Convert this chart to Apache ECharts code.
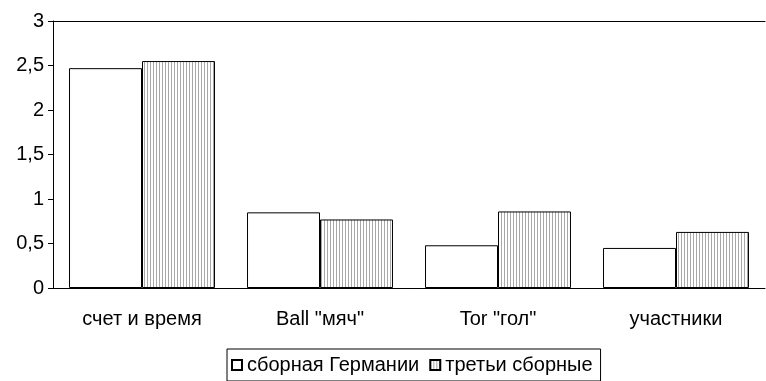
<!DOCTYPE html>
<html>
<head>
<meta charset="utf-8">
<script src="https://cdn.jsdelivr.net/npm/echarts@6/dist/echarts.min.js"></script>
<style>
  html, body { margin: 0; padding: 0; background: #fff; }
  #chart { width: 766px; height: 381px; }
</style>
</head>
<body>
<div id="chart"></div>
<script>
// Categories and values
const categories = ['счет и время', 'Ball "мяч"', 'Tor "гол"', 'участники'];
const germanyTeam = [2.47, 0.85, 0.48, 0.45];
const thirdTeams = [2.55, 0.77, 0.86, 0.63];
const seriesNames = ['сборная Германии', 'третьи сборные'];
const yTicks = [0, 0.5, 1, 1.5, 2, 2.5, 3];

// Vertical hatch fill: 1px grey line every 3px
function makeStripePattern() {
  const c = document.createElement('canvas');
  c.width = 3;
  c.height = 4;
  const ctx = c.getContext('2d');
  ctx.fillStyle = '#ffffff';
  ctx.fillRect(0, 0, 3, 4);
  ctx.fillStyle = '#a8a8a8';
  ctx.fillRect(0, 0, 1, 4);
  return c;
}

const FONT = 'Liberation Sans, Arial, sans-serif';
const chart = echarts.init(document.getElementById('chart'), null, { renderer: 'canvas' });

chart.setOption({
  animation: false,
  backgroundColor: '#ffffff',
  textStyle: { fontFamily: FONT, color: '#000' },
  grid: { left: 53, right: 1, top: 21, bottom: 93, containLabel: false },
  legend: {
    data: seriesNames,
    left: 227,
    top: 349,
    padding: [6, 8, 6, 4],
    itemWidth: 10,
    itemHeight: 10,
    itemGap: 10,
    icon: 'rect',
    borderColor: '#000',
    borderWidth: 1,
    borderRadius: 0,
    textStyle: { fontFamily: FONT, fontSize: 20, color: '#000' }
  },
  xAxis: [
    {
      type: 'category',
      data: categories,
      axisLine: { lineStyle: { color: '#000', width: 1 } },
      axisTick: { show: false },
      axisLabel: { color: '#000', fontSize: 20, fontFamily: FONT, margin: 21 },
      splitLine: { show: false }
    },
    {
      type: 'category',
      data: categories,
      position: 'top',
      axisLine: { show: true, lineStyle: { color: '#000', width: 1 } },
      axisTick: { show: false },
      axisLabel: { show: false },
      splitLine: { show: false }
    }
  ],
  yAxis: {
    type: 'value',
    min: yTicks[0],
    max: yTicks[yTicks.length - 1],
    interval: 0.5,
    axisLine: { show: true, lineStyle: { color: '#000', width: 1 } },
    axisTick: { show: true, length: 5, lineStyle: { color: '#000' } },
    axisLabel: {
      color: '#000',
      fontSize: 20,
      fontFamily: FONT,
      margin: 9,
      formatter: v => String(v).replace('.', ',')
    },
    splitLine: { show: false }
  },
  series: [
    {
      name: seriesNames[0],
      type: 'bar',
      data: germanyTeam,
      barGap: '0%',
      barCategoryGap: '18%',
      itemStyle: { color: '#ffffff', borderColor: '#000', borderWidth: 1 }
    },
    {
      name: seriesNames[1],
      type: 'bar',
      data: thirdTeams,
      itemStyle: {
        color: { image: makeStripePattern(), repeat: 'repeat' },
        borderColor: '#000',
        borderWidth: 1
      }
    }
  ]
});
</script>
</body>
</html>
